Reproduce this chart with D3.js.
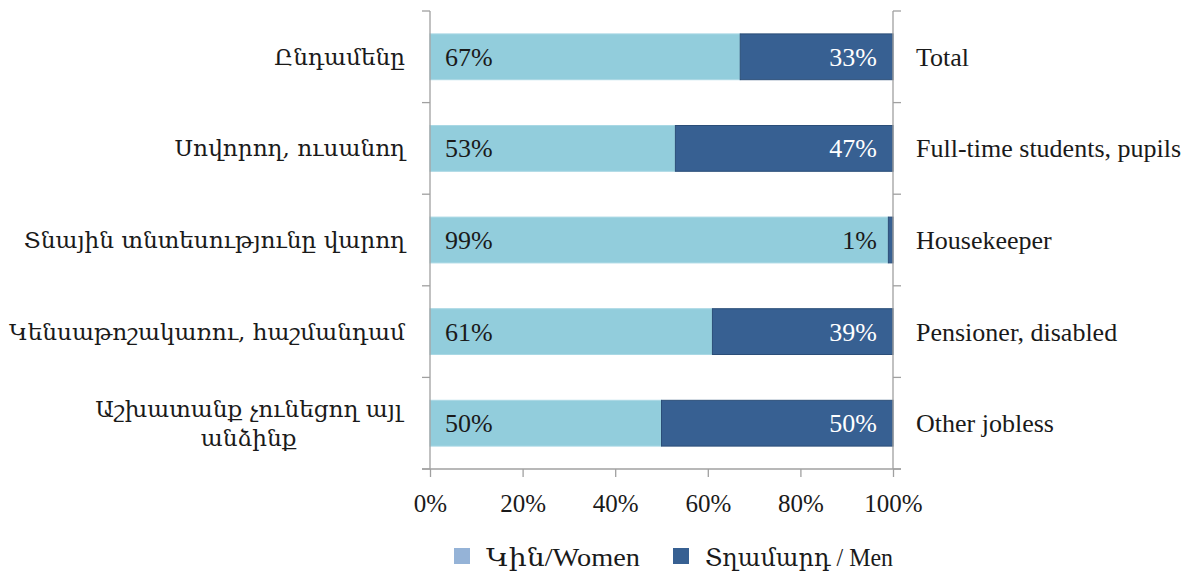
<!DOCTYPE html>
<html>
<head>
    <meta charset="utf-8" />
    <title>Women / Men by activity status</title>
    <style>
        body { margin: 0; background: #fff; }
        text { font-family: "Liberation Serif", "DejaVu Serif", serif; fill: #1a1a1a; }
        text.hy { font-family: "DejaVu Serif", "Liberation Serif", serif; }
        .axis line, .axis path { stroke: #a0a0a0; stroke-width: 1.3px; }
    </style>
</head>
<body>
    <svg id="chart" width="1195" height="572"></svg>
    <script src="https://d3js.org/d3.v7.min.js"></script>
    <script>
        // data
        var categoriesHy = ["Ընդամենը", "Սովորող, ուսանող", "Տնային տնտեսությունը վարող",
            "Կենսաթոշակառու, հաշմանդամ", "Աշխատանք չունեցող այլ|անձինք"];
        var categoriesEn = ["Total", "Full-time students, pupils", "Housekeeper",
            "Pensioner, disabled", "Other jobless"];
        var women = [67, 53, 99, 61, 50];
        var men = [33, 47, 1, 39, 50];
        var tickValues = [0, 20, 40, 60, 80, 100];
        var seriesNames = ["Կին/Women", "Տղամարդ / Men"];

        var svg = d3.select("#chart");
        // plot box (don't use "top" - it clashes with window.top)
        var plotLeft = 430, plotRight = 893, plotTop = 11, plotBottom = 469;

        var x = d3.scaleLinear().domain([0, 100]).range([plotLeft, plotRight]);
        var y = d3.scaleBand().domain(d3.range(categoriesEn.length))
            .range([plotTop, plotBottom]).paddingInner(0.5).paddingOuter(0.25);

        var rows = categoriesEn.map(function(c, i) {
            return {i: i, hy: categoriesHy[i], en: c, w: women[i], m: men[i]};
        });

        // bars
        var g = svg.append("g");
        g.selectAll("rect.w").data(rows).enter().append("rect")
            .attr("x", function(d) { return x(0); })
            .attr("y", function(d) { return y(d.i); })
            .attr("width", function(d) { return x(d.w) - x(0); })
            .attr("height", y.bandwidth())
            .attr("fill", "#92cddc")
            .attr("stroke", "#a9d8e4").attr("stroke-width", 1);
        g.selectAll("rect.m").data(rows).enter().append("rect")
            .attr("x", function(d) { return x(d.w); })
            .attr("y", function(d) { return y(d.i); })
            .attr("width", function(d) { return x(100) - x(d.w); })
            .attr("height", y.bandwidth())
            .attr("fill", "#376092")
            .attr("stroke", "#2b4e78").attr("stroke-width", 1);

        // value labels
        g.selectAll("text.w").data(rows).enter().append("text")
            .attr("x", x(0) + 15)
            .attr("y", function(d) { return y(d.i) + y.bandwidth() / 2 + 9; })
            .attr("font-size", 26)
            .text(function(d) { return d.w + "%"; });
        g.selectAll("text.m").data(rows).enter().append("text")
            .attr("x", x(100) - 16)
            .attr("y", function(d) { return y(d.i) + y.bandwidth() / 2 + 9; })
            .attr("text-anchor", "end")
            .attr("font-size", 26)
            .style("fill", function(d) { return d.m < 5 ? "#1a1a1a" : "#ffffff"; })
            .text(function(d) { return d.m + "%"; });

        // left and right axis lines with ticks at band boundaries
        var step = y.step();
        var bounds = d3.range(categoriesEn.length + 1).map(function(k) { return plotTop + k * step; });
        var axes = svg.append("g").attr("class", "axis");
        axes.append("line").attr("x1", plotLeft).attr("x2", plotLeft).attr("y1", plotTop).attr("y2", plotBottom);
        axes.append("line").attr("x1", plotRight).attr("x2", plotRight).attr("y1", plotTop).attr("y2", plotBottom);
        axes.selectAll("line.tl").data(bounds).enter().append("line")
            .attr("x1", plotLeft - 8).attr("x2", plotLeft).attr("y1", function(d) { return d; }).attr("y2", function(d) { return d; });
        axes.selectAll("line.tr").data(bounds).enter().append("line")
            .attr("x1", plotRight).attr("x2", plotRight + 8).attr("y1", function(d) { return d; }).attr("y2", function(d) { return d; });

        // bottom axis
        var xAxis = d3.axisBottom(x).tickValues(tickValues)
            .tickFormat(function(d) { return d + "%"; })
            .tickSize(8).tickSizeOuter(0).tickPadding(17);
        var xg = svg.append("g").attr("class", "axis").attr("transform", "translate(0," + plotBottom + ")").call(xAxis);
        xg.select(".domain").remove();
        xg.append("line").attr("x1", plotLeft - 8).attr("x2", plotRight + 8).attr("y1", 0).attr("y2", 0);
        xg.selectAll("text").attr("font-size", 25).attr("font-family", null).style("fill", "#1a1a1a");

        // category labels, left (Armenian) and right (English)
        svg.selectAll("text.hy").data(rows).enter().append("text")
            .attr("class", "hy")
            .attr("font-size", 23.2)
            .each(function(d) {
                var lines = d.hy.split("|");
                var cy = y(d.i) + y.bandwidth() / 2;
                var t = d3.select(this);
                if (lines.length === 1) {
                    t.attr("x", 405).attr("y", cy + 8).attr("text-anchor", "end").text(lines[0]);
                } else {
                    t.attr("text-anchor", "middle");
                    var spans = lines.map(function(l, k) {
                        return t.append("tspan").attr("y", cy - 14.5 + 8 + k * 29.5).text(l);
                    });
                    var wMax = d3.max(spans, function(s) { return s.node().getComputedTextLength(); });
                    spans.forEach(function(s) { s.attr("x", 402 - wMax / 2); });
                }
            });
        svg.selectAll("text.en").data(rows).enter().append("text")
            .attr("x", 916)
            .attr("y", function(d) { return y(d.i) + y.bandwidth() / 2 + 9; })
            .attr("font-size", 26)
            .text(function(d) { return d.en; });

        // legend
        var legendColors = ["#95b3d7", "#376092"];
        var legendX = [454, 673];
        var legendTextW = [154, 188];
        var lg = svg.append("g");
        seriesNames.forEach(function(name, i) {
            lg.append("rect").attr("x", legendX[i]).attr("y", 548).attr("width", 16).attr("height", 16)
                .attr("fill", legendColors[i]);
            lg.append("text").attr("x", legendX[i] + 32).attr("y", 566)
                .attr("font-size", 25)
                .attr("textLength", legendTextW[i]).attr("lengthAdjust", "spacingAndGlyphs")
                .text(name);
        });
    </script>
</body>
</html>
